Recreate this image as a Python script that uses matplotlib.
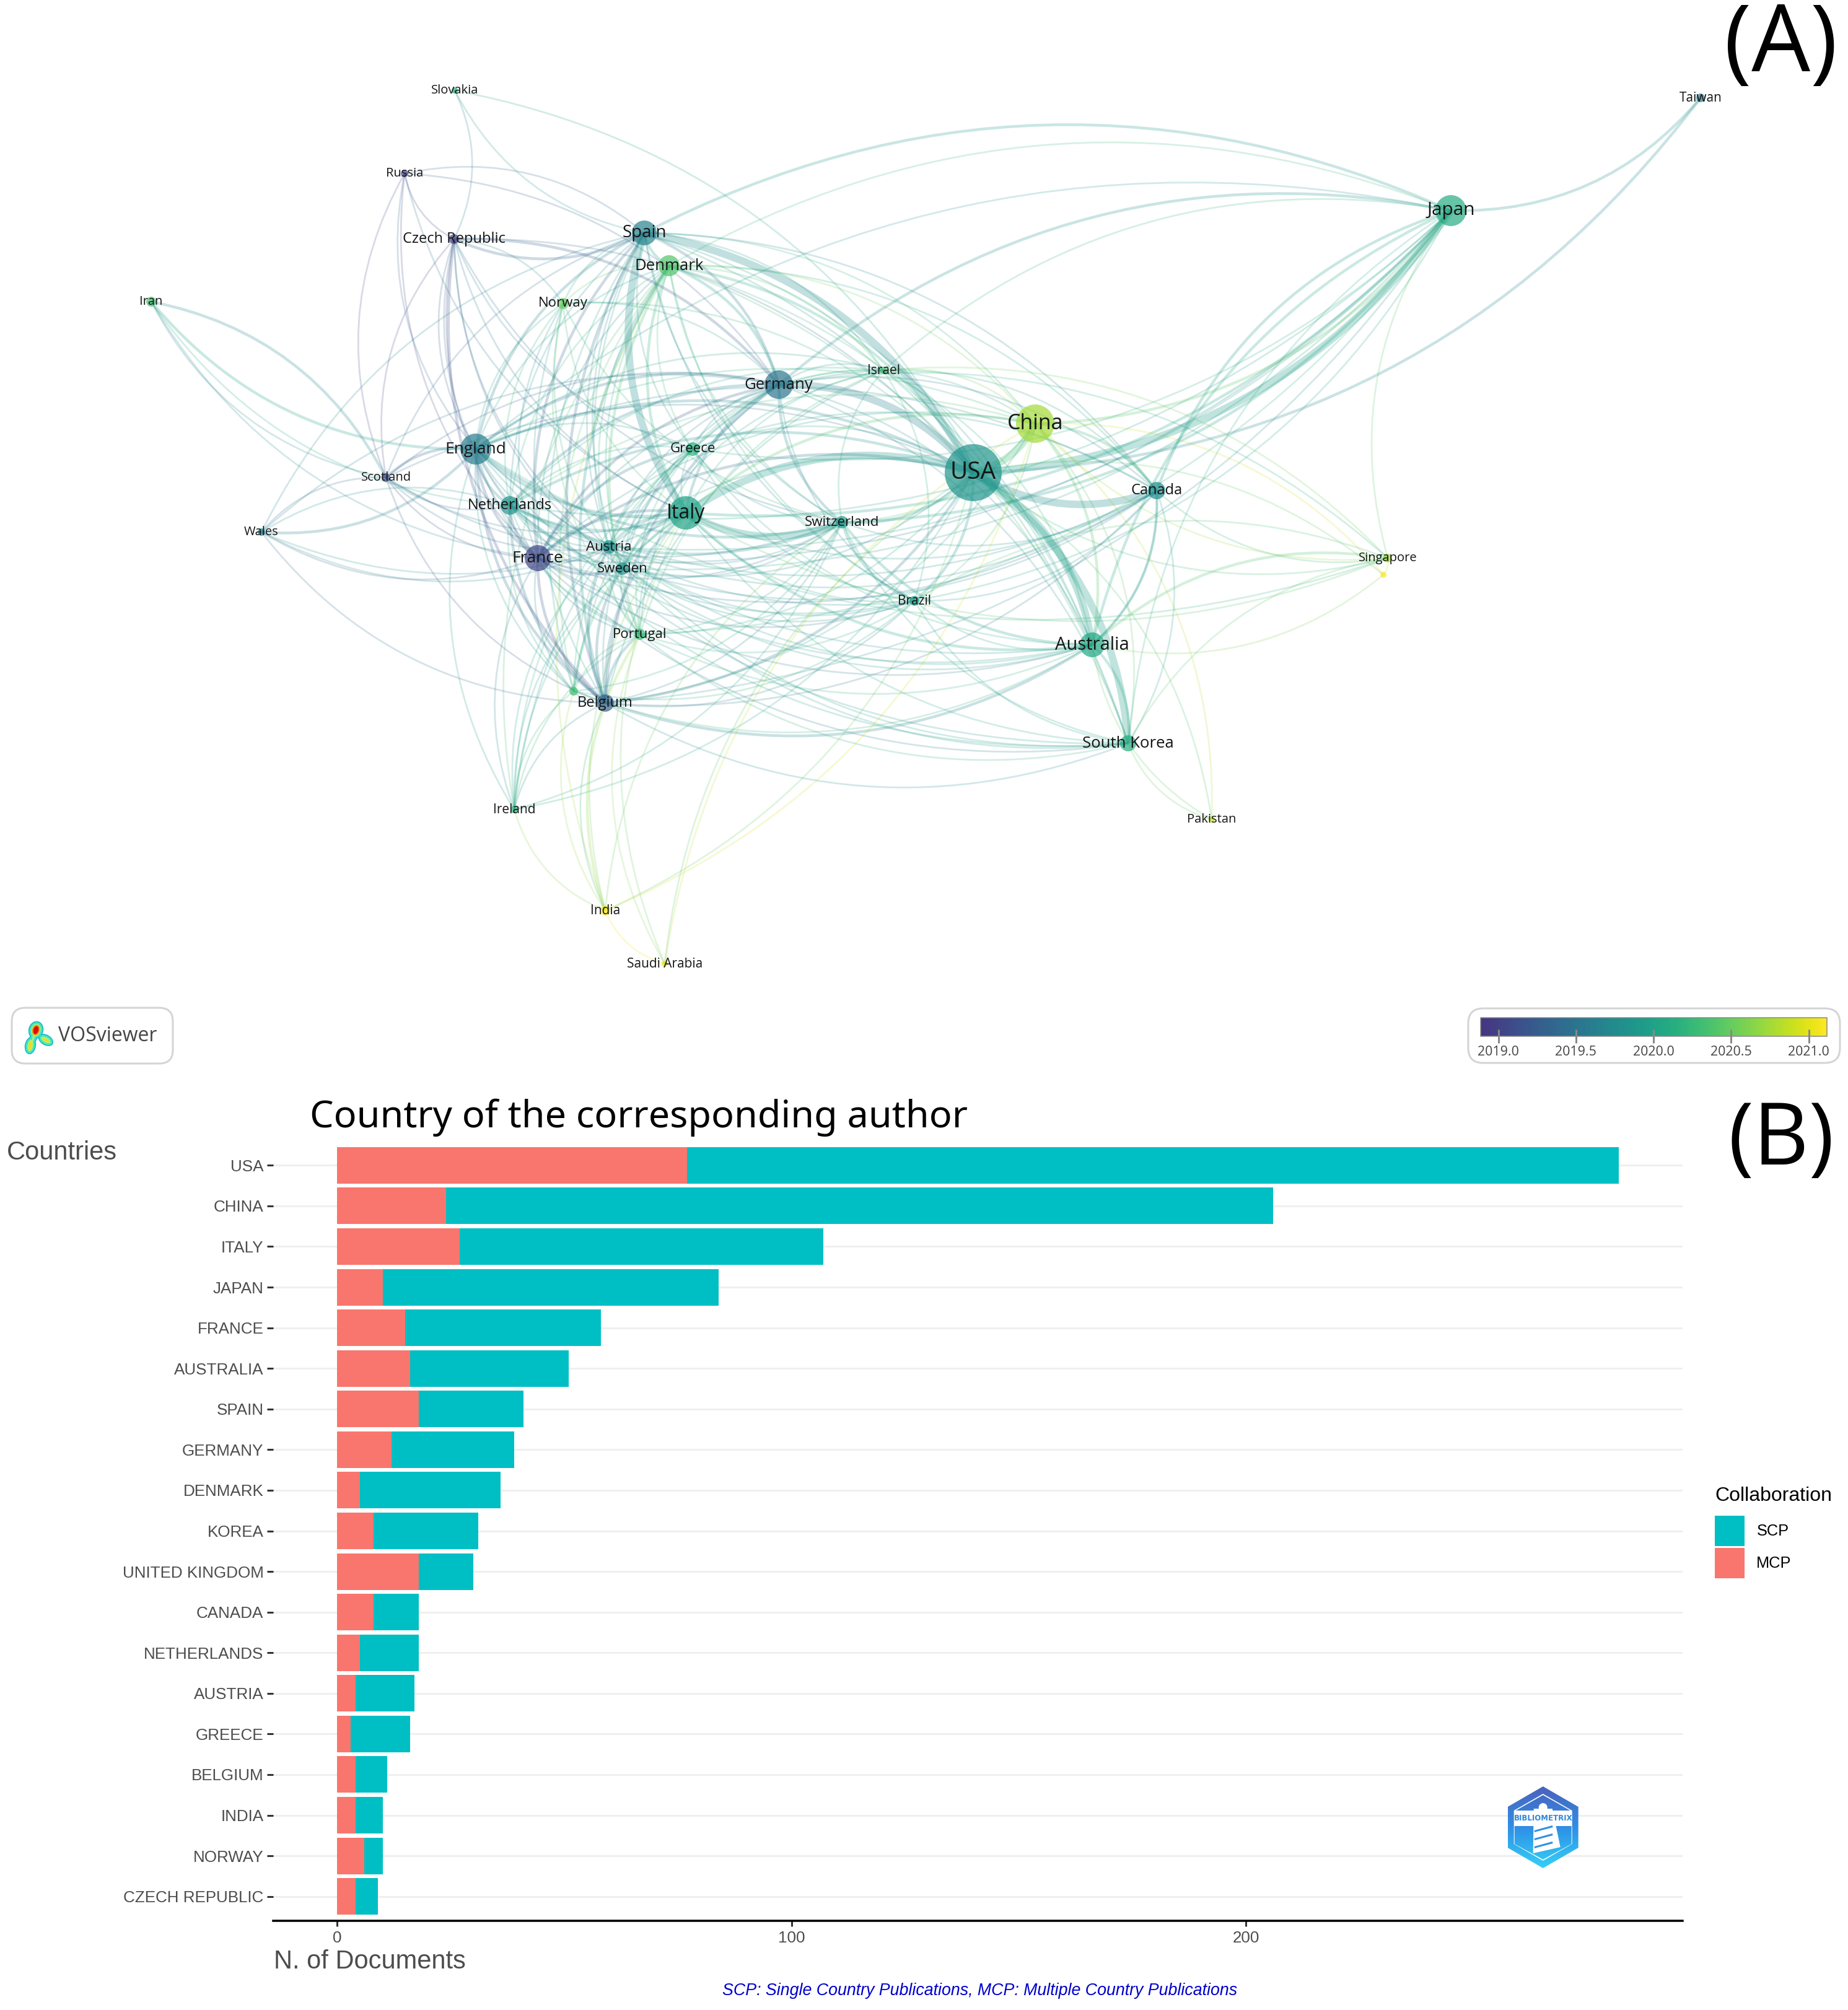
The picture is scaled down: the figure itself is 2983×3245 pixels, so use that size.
import numpy as np
import matplotlib
matplotlib.use("Agg")
import matplotlib.pyplot as plt
from matplotlib.cm import ScalarMappable
from matplotlib.colors import LinearSegmentedColormap, Normalize
from matplotlib.patches import Circle, Ellipse, FancyBboxPatch, Patch, PathPatch, Polygon
from matplotlib.path import Path

W, H = 2983, 3245

# panel A: countries, map position (in image pixels)
node_names = ["USA", "China", "Japan", "Italy", "Spain", "Denmark", "Germany", "England", "France",
              "Netherlands", "Canada", "Australia", "South Korea", "Belgium", "Switzerland", "Austria",
              "Sweden", "Greece", "Portugal", "Brazil", "Israel", "Norway", "Czech Republic", "Russia",
              "Slovakia", "Iran", "Scotland", "Wales", "Taiwan", "Singapore", "Pakistan", "Ireland",
              "India", "Saudi Arabia", "_a", "_b"]
node_x = [1571, 1671, 2342, 1107, 1040, 1080, 1257, 768, 868, 823, 1867, 1763, 1821, 977, 1359, 983,
          1005, 1118, 1033, 1476, 1426, 909, 733, 653, 734, 244, 623, 422, 2745, 2240, 1956, 830,
          977, 1073, 926, 2233]
node_y = [763, 684, 340, 828, 376, 429, 621, 725, 901, 816, 792, 1041, 1200, 1135, 843, 883, 918,
          725, 1024, 970, 598, 490, 386, 280, 146, 487, 771, 859, 158, 901, 1323, 1307, 1470, 1556,
          1116, 928]
node_radius = [46, 31, 25, 27, 20, 17, 23, 25, 21, 15, 14, 20, 13, 14, 10, 11, 10, 11, 9, 8, 6, 9,
               8, 6, 5, 8, 7, 6, 7, 7, 5, 6, 8, 5, 7, 5]
node_year = [2019.85, 2020.75, 2020.1, 2020.0, 2019.65, 2020.4, 2019.5, 2019.6, 2019.05, 2019.85,
             2019.75, 2020.05, 2020.1, 2019.3, 2019.9, 2019.8, 2019.75, 2020.15, 2020.25, 2019.95,
             2020.3, 2020.5, 2019.0, 2019.0, 2020.1, 2020.35, 2019.1, 2019.65, 2019.6, 2020.75,
             2020.9, 2020.2, 2021.1, 2021.0, 2020.3, 2021.1]
label_pt = [28, 24.5, 21.5, 23, 20, 18.5, 18.5, 19, 19, 17, 17, 21, 18.5, 17, 16, 16, 16, 16, 16, 15,
            15, 16, 17, 14.5, 14.5, 14.5, 14.5, 14.5, 15, 14.5, 14.5, 15, 15, 15, 0, 0]

# links by strength
strong_links = [("USA", "Japan"), ("USA", "Spain"), ("USA", "Canada"), ("USA", "Australia"),
                ("USA", "Italy"), ("USA", "Germany"), ("USA", "China"), ("USA", "South Korea"),
                ("Spain", "Italy"), ("Italy", "Switzerland")]
medium_links = [("USA", "England"), ("USA", "France"), ("USA", "Netherlands"), ("USA", "Switzerland"),
                ("USA", "Brazil"), ("USA", "Belgium"), ("USA", "Denmark"), ("Italy", "England"),
                ("Italy", "France"), ("Italy", "Germany"), ("Italy", "Belgium"), ("Italy", "Netherlands"),
                ("Italy", "Japan"), ("Italy", "Australia"), ("Spain", "England"), ("Spain", "Germany"),
                ("Spain", "Czech Republic"), ("Spain", "Japan"), ("Spain", "Belgium"), ("Spain", "Denmark"),
                ("Spain", "France"), ("France", "Belgium"), ("France", "Greece"), ("France", "Netherlands"),
                ("France", "England"), ("France", "Sweden"), ("France", "Germany"), ("England", "Netherlands"),
                ("England", "Germany"), ("England", "Wales"), ("England", "Scotland"), ("England", "Iran"),
                ("England", "Switzerland"), ("England", "Belgium"), ("Germany", "Belgium"),
                ("Germany", "Switzerland"), ("Germany", "Netherlands"), ("Germany", "Denmark"),
                ("Denmark", "Italy"), ("Denmark", "Portugal"), ("Denmark", "Belgium"), ("Belgium", "Portugal"),
                ("Belgium", "Austria"), ("Belgium", "Australia"), ("Belgium", "Sweden"), ("Japan", "China"),
                ("Japan", "Canada"), ("Japan", "Australia"), ("Japan", "Switzerland"), ("Japan", "Germany"),
                ("China", "Australia"), ("China", "Canada"), ("China", "Italy"), ("Australia", "Switzerland"),
                ("Australia", "Singapore"), ("Australia", "South Korea"), ("Australia", "Canada"),
                ("Italy", "_a"), ("Iran", "Scotland"), ("Czech Republic", "Belgium"), ("Czech Republic", "Germany"),
                ("India", "Portugal"), ("Japan", "Taiwan"), ("Taiwan", "USA"), ("Netherlands", "Switzerland"),
                ("Italy", "Austria"), ("Italy", "Sweden"), ("Switzerland", "Brazil"), ("Belgium", "Netherlands")]
thin_links = {
    "USA": ["Austria", "Sweden", "Greece", "Portugal", "Israel", "Norway", "Singapore", "_b", "India",
            "Ireland", "Pakistan", "Saudi Arabia", "Czech Republic", "Scotland", "Slovakia"],
    "China": ["Spain", "Germany", "England", "France", "Netherlands", "Switzerland", "Brazil", "South Korea",
              "Singapore", "_b", "Pakistan", "India", "Israel", "Denmark", "Belgium", "Saudi Arabia"],
    "Japan": ["Denmark", "England", "France", "Netherlands", "South Korea", "Belgium", "Austria", "Greece",
              "Brazil", "Singapore", "Israel", "Sweden", "Portugal"],
    "Italy": ["Canada", "South Korea", "Greece", "Portugal", "Brazil", "Israel", "Norway", "Czech Republic",
              "Russia", "Scotland", "Wales", "Singapore", "Ireland", "India", "Saudi Arabia"],
    "Spain": ["Netherlands", "Canada", "Australia", "Switzerland", "Austria", "Sweden", "Greece", "Portugal",
              "Brazil", "Israel", "Norway", "Russia", "Slovakia", "Scotland", "South Korea", "Wales", "_a"],
    "Denmark": ["England", "France", "Netherlands", "Canada", "Australia", "Switzerland", "Austria", "Sweden",
                "Greece", "Brazil", "Israel", "Norway", "South Korea", "Ireland", "_a", "India"],
    "Germany": ["Canada", "Australia", "South Korea", "Austria", "Sweden", "Greece", "Portugal", "Brazil",
                "Israel", "Norway", "Russia", "Scotland", "Wales", "Ireland", "_a", "Singapore"],
    "England": ["Canada", "Australia", "South Korea", "Austria", "Sweden", "Greece", "Portugal", "Brazil",
                "Israel", "Norway", "Czech Republic", "Russia", "Ireland", "_a", "Singapore"],
    "France": ["Canada", "Australia", "South Korea", "Switzerland", "Austria", "Portugal", "Brazil", "Israel",
               "Norway", "Czech Republic", "Russia", "Scotland", "Wales", "Ireland", "_a", "Iran"],
    "Netherlands": ["Canada", "Australia", "South Korea", "Austria", "Sweden", "Greece", "Portugal", "Brazil",
                    "Israel", "Norway", "Czech Republic", "Scotland", "Wales", "_a", "Iran"],
    "Canada": ["Australia", "South Korea", "Belgium", "Switzerland", "Austria", "Sweden", "Brazil", "Singapore",
               "Israel", "Greece"],
    "Australia": ["Austria", "Sweden", "Greece", "Portugal", "Brazil", "Israel", "_b", "Pakistan", "_a"],
    "South Korea": ["Belgium", "Switzerland", "Sweden", "Portugal", "Brazil", "Singapore", "Pakistan", "Austria"],
    "Belgium": ["Switzerland", "Greece", "Brazil", "Israel", "Norway", "Scotland", "Wales", "Ireland", "India",
                "_a"],
    "Switzerland": ["Austria", "Sweden", "Greece", "Portugal", "Israel", "Norway", "Czech Republic", "Scotland",
                    "Ireland", "_a", "India"],
    "Austria": ["Sweden", "Greece", "Portugal", "Brazil", "Czech Republic", "Ireland", "Scotland", "Wales"],
    "Sweden": ["Greece", "Portugal", "Brazil", "Israel", "Norway", "Czech Republic", "Ireland"],
    "Greece": ["Portugal", "Brazil", "Israel", "Czech Republic", "Ireland", "_a"],
    "Portugal": ["Brazil", "Israel", "Norway", "Ireland", "_a", "Saudi Arabia"],
    "Brazil": ["Israel", "_a", "Singapore"],
    "Czech Republic": ["Russia", "Slovakia", "Scotland", "Norway"],
    "Russia": ["Scotland"],
    "Scotland": ["Wales", "Iran"],
    "Ireland": ["India", "_a"],
    "India": ["_a", "Saudi Arabia"],
    "Singapore": ["_b"],
    "Israel": ["Singapore"],
}
# these bow towards the middle of the map rather than away from it
inward_links = {("USA", "Canada"), ("Japan", "Taiwan"), ("Iran", "Scotland"), ("Australia", "Singapore"),
                ("England", "Wales"), ("Spain", "Czech Republic"), ("Spain", "Slovakia"),
                ("South Korea", "Singapore"), ("Brazil", "Singapore"), ("Canada", "Singapore"),
                ("Japan", "Singapore"), ("Japan", "South Korea"), ("Japan", "Australia"), ("Japan", "Canada"),
                ("China", "Singapore"), ("USA", "Singapore"), ("Czech Republic", "Slovakia"),
                ("Australia", "Pakistan"), ("USA", "Saudi Arabia"), ("China", "Saudi Arabia")}
# fan out of Japan that runs low, past the USA
low_links = {("Italy", "Japan"), ("Japan", "Switzerland"), ("Japan", "France"), ("Japan", "Netherlands"),
             ("Japan", "Belgium"), ("Japan", "Austria"), ("Japan", "Greece"), ("Japan", "Brazil"),
             ("Japan", "Sweden"), ("Japan", "Portugal"), ("USA", "Japan")}

year_ticks = [2019.0, 2019.5, 2020.0, 2020.5, 2021.0]
year_lo, year_hi = 2018.886, 2021.117

# panel B
countries = ["USA", "CHINA", "ITALY", "JAPAN", "FRANCE", "AUSTRALIA", "SPAIN", "GERMANY", "DENMARK", "KOREA",
             "UNITED KINGDOM", "CANADA", "NETHERLANDS", "AUSTRIA", "GREECE", "BELGIUM", "INDIA", "NORWAY",
             "CZECH REPUBLIC"]
mcp = [77, 24, 27, 10, 15, 16, 18, 12, 5, 8, 18, 8, 5, 4, 3, 4, 4, 6, 4]
scp = [205, 182, 80, 74, 43, 35, 23, 27, 31, 23, 12, 10, 13, 13, 13, 7, 6, 4, 5]
doc_ticks = [0, 100, 200]

plt.rcParams["font.family"] = ["Liberation Sans", "DejaVu Sans"]
MAP_FONT = ["Open Sans", "DejaVu Sans"]
PX = 0.72  # pixels to points at dpi 100

vir = plt.get_cmap("viridis")
cmap = LinearSegmentedColormap.from_list("vos", vir(np.linspace(0.15, 1.0, 128)))
norm = Normalize(year_lo, year_hi)

fig = plt.figure(figsize=(W / 100, H / 100), dpi=100, facecolor="white")

# bars
ax = fig.add_axes([441 / W, 1 - 3101 / H, (2716 - 441) / W, (3101 - 1842) / H])
pos = np.arange(len(countries))
ax.barh(pos, mcp, height=0.9, color="#F8766D", zorder=3)
ax.barh(pos, scp, height=0.9, left=mcp, color="#00BFC4", zorder=3)
ax.set_xlim(-14.1, 296.1)
ax.set_ylim(18.6, -0.6)
ax.set_yticks(pos, countries)
ax.set_xticks(doc_ticks)
ax.grid(axis="y", color="#efefef", lw=3 * PX, zorder=0)
ax.set_axisbelow(True)
for side in ["top", "left", "right"]:
    ax.spines[side].set_visible(False)
ax.spines["bottom"].set_linewidth(3.5 * PX)
ax.spines["bottom"].set_color("black")
ax.tick_params(axis="y", length=10 * PX, width=3 * PX, color="#333333", labelsize=18.7,
               labelcolor="#4d4d4d", pad=4)
ax.tick_params(axis="x", length=9 * PX, width=3 * PX, color="#333333", labelsize=18.7,
               labelcolor="#4d4d4d", pad=5)

# everything positioned in image pixels goes on this overlay
ov = fig.add_axes([0, 0, 1, 1], facecolor="none")
ov.set_xlim(0, W)
ov.set_ylim(H, 0)
ov.axis("off")


def link_curve(a, b):
    i, j = node_names.index(a), node_names.index(b)
    p, q = np.array([node_x[i], node_y[i]], float), np.array([node_x[j], node_y[j]], float)
    mid = (p + q) / 2
    d = q - p
    perp = np.array([-d[1], d[0]])
    away = mid - np.array([1400.0, 800.0])
    sign = 1 if perp @ away >= 0 else -1
    if (a, b) in inward_links:
        sign = -sign
    if (a, b) in low_links:
        sign = 1 if perp[1] > 0 else -1
    ctrl = mid + sign * 0.24 * perp
    year = (node_year[i] + node_year[j]) / 2
    return Path([p, ctrl, q], [Path.MOVETO, Path.CURVE3, Path.CURVE3]), year


def add_links(pairs, width, alpha):
    for a, b in pairs:
        path, year = link_curve(a, b)
        ov.add_patch(PathPatch(path, fc="none", ec=cmap(norm(year)), lw=width * PX, alpha=alpha, zorder=1))


thin_pairs = [(a, b) for a, partners in thin_links.items() for b in partners]
add_links(thin_pairs, 2.8, 0.2)
add_links(medium_links, 4.5, 0.24)
add_links(strong_links, 12, 0.28)

for name, x, y, r, yr, pt in zip(node_names, node_x, node_y, node_radius, node_year, label_pt):
    ov.add_patch(Circle((x, y), r, fc=cmap(norm(yr)), ec="none", alpha=0.7, zorder=2))
    if not name.startswith("_"):
        ov.text(x, y, name, fontsize=pt, family=MAP_FONT, color="#151515", ha="center", va="center", zorder=4)

ov.text(2875, 76, "(A)", fontsize=108, family=MAP_FONT, ha="center", va="center", color="black")
ov.text(2875, 1843, "(B)", fontsize=100, family=MAP_FONT, ha="center", va="center", color="black")

# VOSviewer badge
ov.add_patch(FancyBboxPatch((33, 1641), 232, 62, boxstyle="round,pad=14,rounding_size=22",
                            fc="white", ec="#d4d4d4", lw=3 * PX))
blob_shapes = [(58, 1663, 20, 25, 15), (49, 1688, 14, 24, 10), (74, 1679, 22, 13, 30), (54, 1675, 8, 18, 15)]
for grow, col in [(4, "#12b5c0"), (1, "#3fe6c8"), (-5, "#b8f06a"), (-10, "#f6d51e")]:
    for bx, by, bw, bh, ang in blob_shapes:
        if bw + grow > 0:
            ov.add_patch(Ellipse((bx, by), bw + grow, bh + grow, angle=ang, fc=col, ec="none", zorder=3))
ov.add_patch(Ellipse((58, 1663), 12, 17, angle=15, fc="#f08a10", ec="none", zorder=3))
ov.add_patch(Ellipse((58, 1663), 8, 13, angle=15, fc="#d80f0f", ec="none", zorder=3))
ov.text(94, 1672, "VOSviewer", fontsize=23, family=MAP_FONT, color="#444444", ha="left", va="center")

# colour scale
ov.add_patch(FancyBboxPatch((2385, 1643), 570, 58, boxstyle="round,pad=15,rounding_size=24",
                            fc="white", ec="#d4d4d4", lw=3 * PX))
cax = fig.add_axes([2390 / W, 1 - 1673 / H, 559 / W, 30 / H])
cb = fig.colorbar(ScalarMappable(norm=norm, cmap=cmap), cax=cax, orientation="horizontal", ticks=year_ticks)
cb.outline.set_edgecolor("#888888")
cb.outline.set_linewidth(1.5 * PX)
cax.tick_params(axis="x", direction="inout", length=22 * PX, width=3 * PX, color="#888888", pad=3,
                labelsize=15.4, labelcolor="#444444")
cax.set_xticklabels([f"{y:.1f}" for y in year_ticks], family=MAP_FONT)

# axis titles and notes
ov.text(500, 1804, "Country of the corresponding author", fontsize=44, family=["Noto Sans", "DejaVu Sans"],
        ha="left", va="center", color="black")
ov.text(11, 1861, "Countries", fontsize=30, color="#4d4d4d", ha="left", va="center")
ov.text(442, 3167, "N. of Documents", fontsize=30, color="#4d4d4d", ha="left", va="center")
ov.text(1582, 3214, "SCP: Single Country Publications, MCP: Multiple Country Publications", fontsize=19.3,
        style="italic", color="#0000CD", ha="center", va="center")

leg = fig.legend(handles=[Patch(fc="#00BFC4", label="SCP"), Patch(fc="#F8766D", label="MCP")],
                 title="Collaboration", loc="upper left", bbox_to_anchor=(2768 / W, 1 - 2400 / H),
                 frameon=False, fontsize=18.3, title_fontsize=23, handlelength=1.9, handleheight=2.59,
                 handletextpad=0.75, labelspacing=0.12, borderpad=0, borderaxespad=0, alignment="left")
leg._legend_box.sep = 12

# bibliometrix badge, shapes in image pixels around its centre
cx, cy = 2490.7, 2950
hex_outer = [(0, -66), (57, -33), (57, 33), (0, 66), (-57, 33), (-57, -33)]
hex_white = [(0, -54), (47, -27), (47, 27), (0, 54), (-47, 27), (-47, -27)]
roof = [(0, -52), (44, -27), (-44, -27)]
base = [(-46, -2), (46, -2), (46, 27), (0, 52), (-46, 27)]
grad = np.linspace(0, 1, 128)[:, None]
badge_cmap = LinearSegmentedColormap.from_list("badge", ["#4b62bd", "#2f8fe6", "#34d0f5"])


def gradient_fill(points):
    poly = Polygon([(cx + a, cy + b) for a, b in points], closed=True, fc="none", ec="none",
                   transform=ov.transData)
    ov.add_patch(poly)
    im = ov.imshow(grad, cmap=badge_cmap, aspect="auto", extent=(cx - 57, cx + 57, cy + 66, cy - 66),
                   zorder=5)
    im.set_clip_path(poly)


gradient_fill(hex_outer)
ov.add_patch(Polygon([(cx + a, cy + b) for a, b in hex_white], fc="white", ec="none", zorder=5.1))
for shape in (roof, base):
    gradient_fill(shape)
    ov.images[-1].set_zorder(5.2)
tower = [(-15, -30), (15, -30), (28, 32), (-16, 42)]
ov.add_patch(Polygon([(cx + a, cy + b) for a, b in tower], fc="white", ec="none", zorder=5.3))
ov.add_patch(Circle((cx, cy - 32), 7, fc="white", ec="none", zorder=5.3))
for sy in (0, 13, 26):
    ov.add_patch(Polygon([(cx - 14, cy + sy + 5), (cx + 15, cy + sy - 3), (cx + 16, cy + sy), (cx - 14, cy + sy + 8)],
                         fc="#2f8fe6", ec="none", zorder=5.4))
ov.text(cx, cy - 15, "BIBLIOMETRIX", fontsize=8.5, weight="bold", family="DejaVu Sans", color="#2f88dc",
        ha="center", va="center", zorder=5.5)
ov.set_xlim(0, W)
ov.set_ylim(H, 0)

fig.savefig("out.png", dpi=100, facecolor="white")
